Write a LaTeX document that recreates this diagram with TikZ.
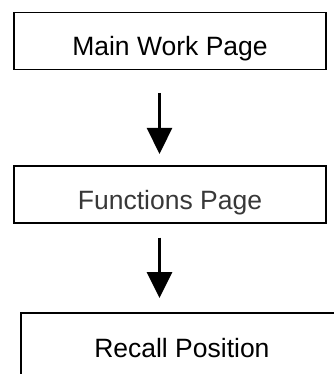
\documentclass[tikz,border=0pt]{standalone}
\usepackage{fontspec}
\setmainfont{Liberation Sans}
\usetikzlibrary{arrows.meta, positioning}

\begin{document}
\begin{tikzpicture}[
  x=1pt, y=-1pt,
  every node/.style={font=\fontsize{26.5}{30}\selectfont},
  page/.style={rectangle, draw, line width=1.8pt, minimum width=312pt, minimum height=57pt, inner sep=0pt, text height=30pt, text depth=0pt},
  flow/.style={-{Triangle[length=26pt,width=25pt]}, line width=3pt},
]
\useasboundingbox (0,0) rectangle (333,374);

\node[page] (main) at (170,41) {Main Work Page};
\node[page, below=95pt of main, text=black!78] (func) {Functions Page};
\node[page, minimum width=322pt, minimum height=70pt, text height=20pt, anchor=north west] (recall) at (20,312) {Recall Position};

% arrows run left of the box centres
\coordinate (axis) at ([xshift=-10.5pt]main.south);
\draw[flow, shorten <=22.5pt, shorten >=11.5pt] (axis) -- (func.north -| axis);
\draw[flow, shorten <=13.5pt, shorten >=14pt] (func.south -| axis) -- (recall.north -| axis);

\end{tikzpicture}
\end{document}
